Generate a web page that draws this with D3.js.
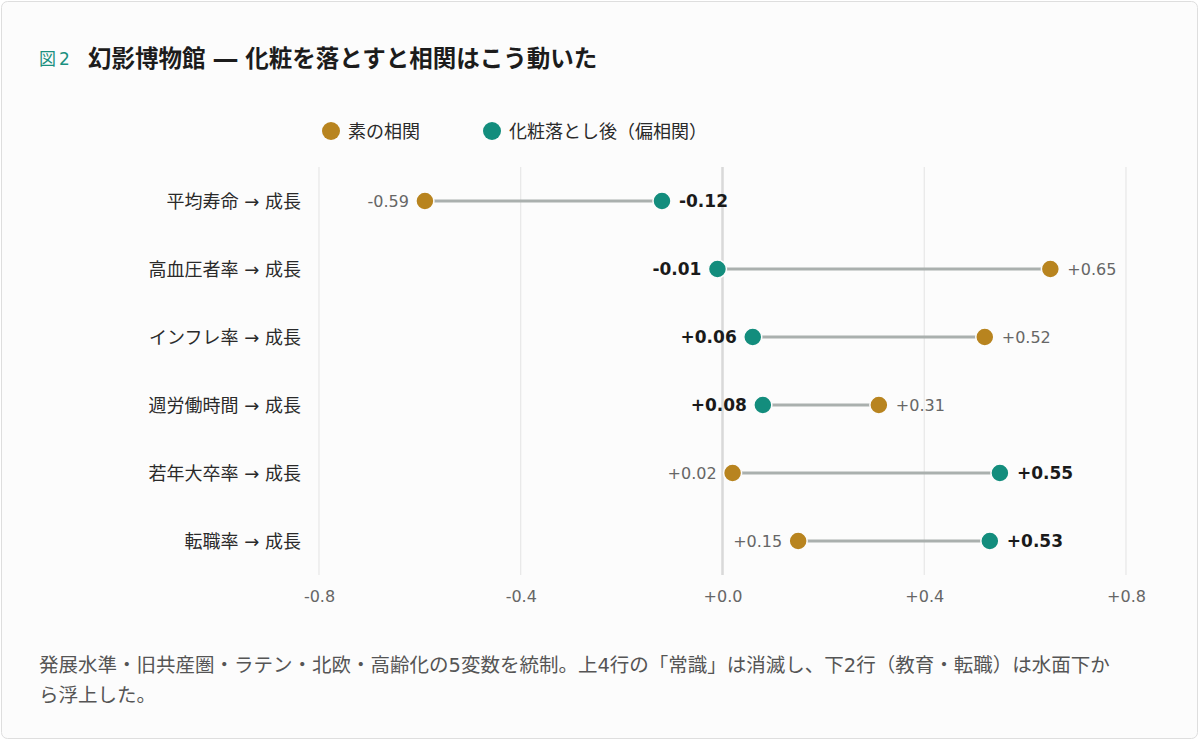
<!DOCTYPE html>
<html>
<head>
<meta charset="utf-8">
<script src="https://cdn.jsdelivr.net/npm/d3@7"></script>
<style>
  body { margin: 0; background: #ffffff; }
  svg { display: block; font-family: "DejaVu Sans", "Noto Sans CJK JP", sans-serif; }
</style>
</head>
<body>
<div id="chart"></div>
<script>
(function() {

  const rows = ['平均寿命 → 成長', '高血圧者率 → 成長', 'インフレ率 → 成長', '週労働時間 → 成長', '若年大卒率 → 成長', '転職率 → 成長'];
  const rawCorr = [-0.59, 0.65, 0.52, 0.31, 0.02, 0.15];
  const partialCorr = [-0.12, -0.01, 0.06, 0.08, 0.55, 0.53];
  const xTicks = [-0.8, -0.4, 0.0, 0.4, 0.8];
  const seriesNames = ['素の相関', '化粧落とし後（偏相関）'];

  const colors = { raw: '#b8841f', partial: '#138d7d' };
  const size = { x: 1200, y: 742 };
  const plot = { left: 319, right: 1126, top: 167, bottom: 575 };

  const fmt = v => (v < 0 ? '-' : '+') + Math.abs(v).toFixed(2);
  const fmtTick = v => (v < 0 ? '-' : '+') + Math.abs(v).toFixed(1);

  let svg = d3.select('#chart')
    .append('svg')
    .attr('width', size.x)
    .attr('height', size.y);

  // card
  svg.append('rect')
    .attr('x', 1.5).attr('y', 1.5)
    .attr('width', size.x - 4).attr('height', size.y - 5)
    .attr('rx', 6)
    .attr('fill', '#fcfcfc')
    .attr('stroke', '#dedede');

  // title
  svg.append('text')
    .attr('x', 39).attr('y', 65)
    .attr('fill', '#1a9080')
    .attr('font-size', 17)
    .attr('letter-spacing', 3)
    .text('図2');
  svg.append('text')
    .attr('x', 88).attr('y', 67)
    .attr('fill', '#1c1c1c')
    .attr('font-size', 23.5)
    .attr('font-weight', 'bold')
    .text('幻影博物館 ― 化粧を落とすと相関はこう動いた');

  // legend
  let legend = svg.append('g');
  [[331, colors.raw, seriesNames[0]], [492, colors.partial, seriesNames[1]]].forEach(d => {
    legend.append('circle')
      .attr('cx', d[0]).attr('cy', 131).attr('r', 9)
      .attr('fill', d[1]);
    legend.append('text')
      .attr('x', d[0] + 17).attr('y', 138)
      .attr('font-size', 18)
      .attr('fill', '#2a2a2a')
      .text(d[2]);
  });

  let x = d3.scaleLinear()
    .domain([-0.8, 0.8])
    .range([plot.left, plot.right]);

  let y = d3.scalePoint()
    .domain(rows)
    .range([201, 541]);

  // grid
  svg.append('g')
    .selectAll('line')
    .data(xTicks)
    .enter()
    .append('line')
      .attr('x1', d => x(d)).attr('x2', d => x(d))
      .attr('y1', plot.top).attr('y2', plot.bottom)
      .attr('stroke', d => d === 0 ? '#d9d9d9' : '#e3e3e3')
      .attr('stroke-width', d => d === 0 ? 2.5 : 1);

  // x axis
  let axis = svg.append('g')
    .attr('transform', `translate(0, ${plot.bottom})`)
    .call(d3.axisBottom(x).tickValues(xTicks).tickFormat(fmtTick).tickSize(0).tickPadding(16));
  axis.select('.domain').remove();
  axis.selectAll('text')
    .attr('font-size', 16)
    .attr('fill', '#666')
    .attr('font-family', '"DejaVu Sans", sans-serif');

  // row labels
  svg.append('g')
    .selectAll('text')
    .data(rows)
    .enter()
    .append('text')
      .attr('x', 301)
      .attr('y', d => y(d) + 6.5)
      .attr('text-anchor', 'end')
      .attr('font-size', 18)
      .attr('fill', '#2a2a2a')
      .text(d => d);

  const data = rows.map((r, i) => ({ row: r, raw: rawCorr[i], partial: partialCorr[i] }));

  let g = svg.append('g');
  // connectors
  g.selectAll('.link')
    .data(data)
    .enter()
    .append('line')
      .attr('class', 'link')
      .attr('x1', d => x(d.raw)).attr('x2', d => x(d.partial))
      .attr('y1', d => y(d.row)).attr('y2', d => y(d.row))
      .attr('stroke', '#aab0ae')
      .attr('stroke-width', 3);

  // dots
  ['raw', 'partial'].forEach(key => {
    g.selectAll('.dot-' + key)
      .data(data)
      .enter()
      .append('circle')
        .attr('class', 'dot-' + key)
        .attr('cx', d => x(d[key]))
        .attr('cy', d => y(d.row))
        .attr('r', 9)
        .attr('fill', colors[key])
        .attr('stroke', '#fcfcfc')
        .attr('stroke-width', 1.5);
  });

  // value labels
  ['raw', 'partial'].forEach(key => {
    const other = key === 'raw' ? 'partial' : 'raw';
    g.selectAll('.lab-' + key)
      .data(data)
      .enter()
      .append('text')
        .attr('x', d => x(d[key]) + (d[key] < d[other] ? -16 : 17))
        .attr('y', d => y(d.row) + 6)
        .attr('text-anchor', d => d[key] < d[other] ? 'end' : 'start')
        .attr('font-size', key === 'raw' ? 16 : 17)
        .attr('font-weight', key === 'raw' ? 'normal' : 'bold')
        .attr('fill', key === 'raw' ? '#666' : '#1a1a1a')
        .text(d => fmt(d[key]));
  });

  // footnote
  let note = svg.append('text')
    .attr('font-size', 19.5)
    .attr('fill', '#555');
  ['発展水準・旧共産圏・ラテン・北欧・高齢化の5変数を統制。上4行の「常識」は消滅し、下2行（教育・転職）は水面下か',
   'ら浮上した。'].forEach((t, i) => {
    note.append('tspan')
      .attr('x', 39)
      .attr('y', 672 + i * 30)
      .text(t);
  });
}());
</script>
</body>
</html>
